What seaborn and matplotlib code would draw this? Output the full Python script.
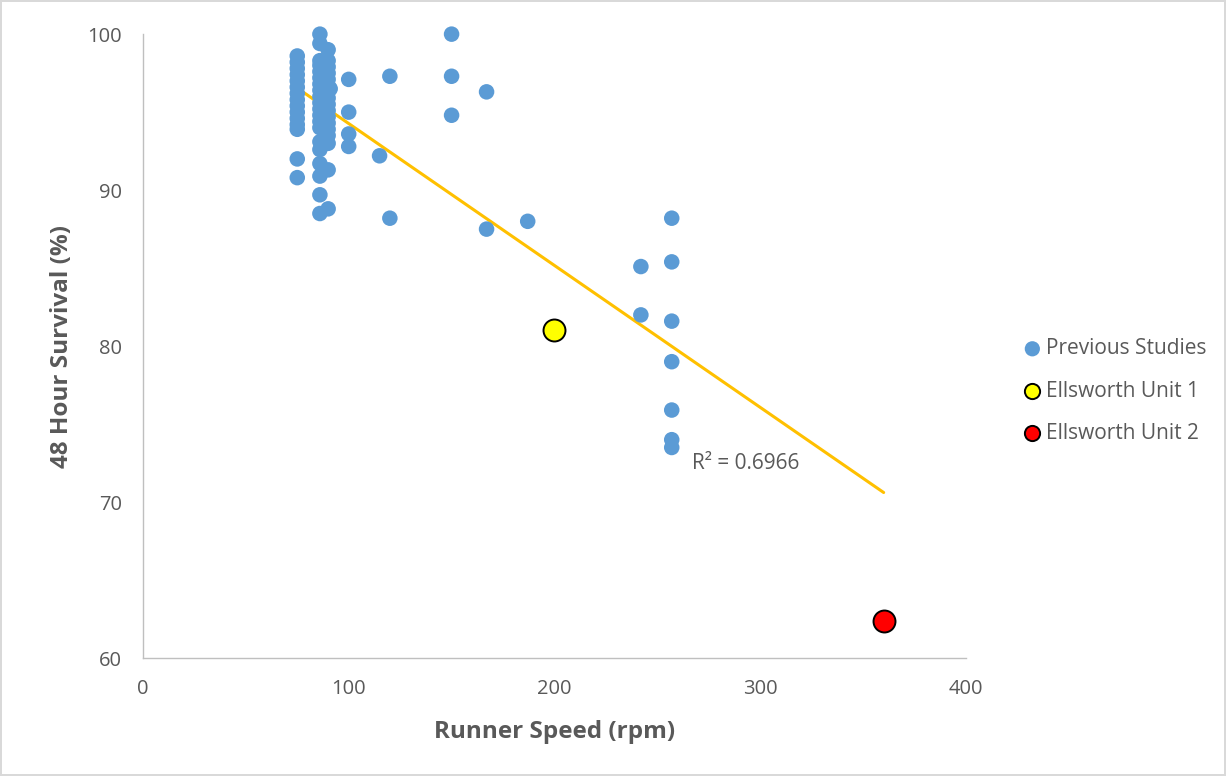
import numpy as np
import pandas as pd
import matplotlib.pyplot as plt
import seaborn as sns

# Previous studies: runner speed (rpm) and 48 h survival (%)
speed_75 = [75] * 15
surv_75 = [98.6, 98.2, 97.8, 97.4, 97.0, 96.6, 96.2, 95.8, 95.4, 95.0, 94.6, 94.2, 93.9, 92.0, 90.8]
speed_86 = [86] * 20
surv_86 = [100, 99.4, 98.3, 98.0, 97.6, 97.2, 96.8, 96.4, 96.0, 95.6, 95.2, 94.8, 94.4, 94.0,
           93.1, 92.6, 91.7, 90.9, 89.7, 88.5]
speed_90 = [90] * 17
surv_90 = [99.0, 98.3, 97.9, 97.5, 97.1, 96.7, 96.3, 95.9, 95.5, 95.1, 94.7, 94.3, 93.9, 93.5,
           93.0, 91.3, 88.8]
speed_other = [91, 100, 100, 100, 100, 115, 120, 120, 150, 150, 150, 167, 167, 187,
               242, 242, 257, 257, 257, 257, 257, 257, 257]
surv_other = [96.5, 97.1, 95.0, 93.6, 92.8, 92.2, 97.3, 88.2, 100, 97.3, 94.8, 96.3, 87.5, 88.0,
              85.1, 82.0, 88.2, 85.4, 81.6, 79.0, 75.9, 74.0, 73.5]

unit1_speed, unit1_surv = [200], [81.0]
unit2_speed, unit2_surv = [360], [62.4]

prev = pd.DataFrame({
    'speed': speed_75 + speed_86 + speed_90 + speed_other,
    'survival': surv_75 + surv_86 + surv_90 + surv_other,
})
# trendline is fitted over every point, Ellsworth units included
todos = pd.DataFrame({
    'speed': list(prev['speed']) + unit1_speed + unit2_speed,
    'survival': list(prev['survival']) + unit1_surv + unit2_surv,
})

sns.set_style('white')
plt.rcParams['font.family'] = ['Open Sans', 'DejaVu Sans']

fig = plt.figure(figsize=(12.26, 7.76), dpi=100)
fig.patch.set_edgecolor('#d9d9d9')
fig.patch.set_linewidth(1.5)
ax = fig.add_axes([0.1166, 0.152, 0.6713, 0.804])

sns.regplot(data=todos, x='speed', y='survival', scatter=False, ci=None, ax=ax,
            line_kws={'color': '#ffc000', 'linewidth': 2.2, 'zorder': 1})

sns.scatterplot(data=prev, x='speed', y='survival', color='#5b9bd5', s=125,
                edgecolor='none', label='Previous Studies', ax=ax, zorder=2, clip_on=False)
sns.scatterplot(x=unit1_speed, y=unit1_surv, color='#ffff00', s=250, edgecolor='black',
                linewidth=1.4, label='Ellsworth Unit 1', ax=ax, zorder=3, clip_on=False)
sns.scatterplot(x=unit2_speed, y=unit2_surv, color='#ff0000', s=250, edgecolor='black',
                linewidth=1.4, label='Ellsworth Unit 2', ax=ax, zorder=3, clip_on=False)

ax.text(267, 72.45, 'R² = 0.6966', fontsize=15, color='#595959', va='center')

ax.set_xlim(0, 400)
ax.set_ylim(60, 100)
ax.set_xticks([0, 100, 200, 300, 400])
ax.set_yticks([60, 70, 80, 90, 100])
ax.tick_params(labelsize=14.5, labelcolor='#595959', length=0, pad=15)
for side in ['top', 'right']:
    ax.spines[side].set_visible(False)
for side in ['left', 'bottom']:
    ax.spines[side].set_color('#bfbfbf')
    ax.spines[side].set_linewidth(1)

ax.set_xlabel('Runner Speed (rpm)', fontsize=17.5, fontweight='bold', color='#595959', labelpad=15)
ax.set_ylabel('48 Hour Survival (%)', fontsize=17.5, fontweight='bold', color='#595959', labelpad=10)

leg = ax.legend(loc='center left', bbox_to_anchor=(1.068, 0.428), frameon=False,
                fontsize=15, labelspacing=1.02, handlelength=1.0, handletextpad=0.15,
                borderpad=0, borderaxespad=0)
for h in leg.legend_handles:
    h.set_sizes([120])
for t in leg.get_texts():
    t.set_color('#595959')

fig.savefig('out.png', dpi=100)
